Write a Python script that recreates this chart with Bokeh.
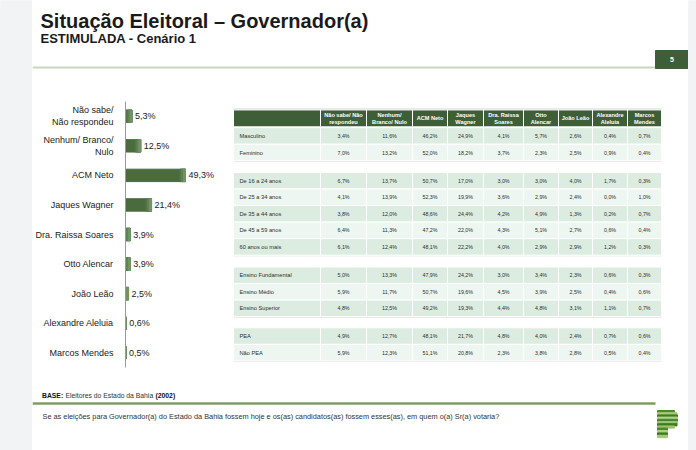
from bokeh.plotting import figure
from bokeh.layouts import row, column
from bokeh.models import Range1d, FactorRange
from bokeh.embed import file_html
from bokeh.resources import INLINE
from bokeh.core.properties import value

FONT = "Liberation Sans"

# ---------------- data ----------------
candidates = ["Não sabe/\nNão respondeu", "Nenhum/ Branco/\nNulo", "ACM Neto", "Jaques Wagner",
              "Dra. Raissa Soares", "Otto Alencar", "João Leão", "Alexandre Aleluia", "Marcos Mendes"]
totals = [5.3, 12.5, 49.3, 21.4, 3.9, 3.9, 2.5, 0.6, 0.5]

col_headers = ["Não sabe/ Não\nrespondeu", "Nenhum/\nBranco/ Nulo", "ACM Neto", "Jaques\nWagner",
               "Dra. Raissa\nSoares", "Otto\nAlencar", "João Leão", "Alexandre\nAleluia", "Marcos\nMendes"]

sexo_labels = ["Masculino", "Feminino"]
masculino = [3.4, 11.6, 46.2, 24.9, 4.1, 5.7, 2.6, 0.4, 0.7]
feminino = [7.0, 13.2, 52.0, 18.2, 3.7, 2.3, 2.5, 0.9, 0.4]

idade_labels = ["De 16 a 24 anos", "De 25 a 34 anos", "De 35 a 44 anos", "De 45 a 59 anos", "60 anos ou mais"]
idade_16_24 = [6.7, 13.7, 50.7, 17.0, 3.0, 3.0, 4.0, 1.7, 0.3]
idade_25_34 = [4.1, 13.9, 52.3, 19.9, 3.6, 2.9, 2.4, 0.0, 1.0]
idade_35_44 = [3.8, 12.0, 48.6, 24.4, 4.2, 4.9, 1.3, 0.2, 0.7]
idade_45_59 = [6.4, 11.3, 47.2, 22.0, 4.3, 5.1, 2.7, 0.6, 0.4]
idade_60_mais = [6.1, 12.4, 48.1, 22.2, 4.0, 2.9, 2.9, 1.2, 0.3]

escol_labels = ["Ensino Fundamental", "Ensino Médio", "Ensino Superior"]
ens_fundamental = [5.0, 13.3, 47.9, 24.2, 3.0, 3.4, 2.3, 0.6, 0.3]
ens_medio = [5.9, 11.7, 50.7, 19.6, 4.5, 3.9, 2.5, 0.4, 0.6]
ens_superior = [4.8, 12.5, 49.2, 19.3, 4.4, 4.8, 3.1, 1.1, 0.7]

pea_labels = ["PEA", "Não PEA"]
pea = [4.9, 12.7, 48.1, 21.7, 4.8, 4.0, 2.4, 0.7, 0.6]
nao_pea = [5.9, 12.3, 51.1, 20.8, 2.3, 3.8, 2.8, 0.5, 0.4]

groups = [
    (sexo_labels, [masculino, feminino]),
    (idade_labels, [idade_16_24, idade_25_34, idade_35_44, idade_45_59, idade_60_mais]),
    (escol_labels, [ens_fundamental, ens_medio, ens_superior]),
    (pea_labels, [pea, nao_pea]),
]


def pct(v):
    return f"{v:.1f}".replace(".", ",") + "%"


# ---------------- style ----------------
GRAY_BG = "#f2f3f5"
DARK_GREEN = "#3e5e37"
BAR_GREEN = "#4a6b3e"
ROW_DARK = "#dcece1"
ROW_LIGHT = "#edf6f0"
TXT = "#222222"


def blank(width, height, xr, yr, bg="white"):
    f = figure(width=width, height=height, x_range=xr, y_range=yr,
               x_axis_type=None, y_axis_type=None, output_backend="svg",
               toolbar_location=None, min_border=0,
               min_border_left=0, min_border_right=0, min_border_top=0, min_border_bottom=0)
    f.outline_line_color = None
    f.background_fill_color = bg
    f.border_fill_color = bg
    f.grid.visible = False
    return f


# ---------------- gray side strips ----------------
strip = blank(32, 450, Range1d(0, 32), Range1d(450, 0), bg=GRAY_BG)
strip.quad(left=[0], right=[32], top=[0], bottom=[450], color=GRAY_BG)
strip_r = blank(8, 450, Range1d(688, 696), Range1d(450, 0), bg=GRAY_BG)
strip_r.quad(left=[688], right=[696], top=[0], bottom=[450], color=GRAY_BG)

# ---------------- header ----------------
header = blank(656, 70, Range1d(32, 688), Range1d(70, 0))
header.text(x=[40], y=[20], text=["Situação Eleitoral – Governador(a)"],
            text_font=value(FONT), text_font_style="bold", text_font_size="20px",
            text_color="#1a1a1a", text_baseline="middle")
header.text(x=[40], y=[37.5], text=["ESTIMULADA - Cenário 1"],
            text_font=value(FONT), text_font_style="bold", text_font_size="13px",
            text_color="#1a1a1a", text_baseline="middle")
header.segment(x0=[32], x1=[688], y0=[67], y1=[67], line_color="#c9d6be", line_width=2)
header.quad(left=[655], right=[688], top=[50], bottom=[68], color=DARK_GREEN)
header.text(x=[671.5], y=[59], text=["5"], text_font=value(FONT), text_font_style="bold",
            text_font_size="7px", text_color="white", text_align="center", text_baseline="middle")

# ---------------- bar chart ----------------
bars = figure(width=193, height=315, x_range=Range1d(0, 82.2),
              y_range=FactorRange(factors=candidates[::-1]),
              x_axis_type=None, output_backend="svg", toolbar_location=None,
              min_border_left=88, min_border_right=0, min_border_top=31, min_border_bottom=18)
bars.outline_line_color = None
bars.grid.visible = False
bars.hbar(y=candidates, left=0, right=totals, height=0.42, color=BAR_GREEN)
# light sheen toward the right end of each bar
for frac, shade in [(4.5, "#557749"), (3.0, "#628456"), (1.5, "#739466")]:
    bars.hbar(y=candidates, left=[max(0, v - frac) for v in totals], right=totals,
              height=0.42, color=shade)
bars.text(x=totals, y=candidates, text=[pct(v) for v in totals], x_offset=3,
          text_font=value(FONT), text_font_size="9px", text_color=TXT, text_baseline="middle")
ax = bars.yaxis[0]
ax.axis_line_color = "#9a9a9a"
ax.major_tick_line_color = None
ax.minor_tick_line_color = None
ax.major_label_standoff = 6
ax.major_label_text_font = FONT
ax.major_label_text_font_size = "9px"
ax.major_label_text_color = TXT

# ---------------- table ----------------
table = blank(463, 315, Range1d(225, 688), Range1d(385, 70))
col_edges = [233, 320, 366, 412, 447, 483, 523, 558, 592, 627, 661]
group_tops = [101, 154, 266, 338]
ROW_H = 19.6
HEAD_TOP, HEAD_BOT = 80, 100

table.segment(x0=[col_edges[0]], x1=[col_edges[-1]], y0=[HEAD_TOP - 0.8], y1=[HEAD_TOP - 0.8],
              line_color="#d6d6d6", line_width=1.5)
table.quad(left=col_edges[:-1], right=col_edges[1:], top=[HEAD_TOP] * 10, bottom=[HEAD_BOT] * 10,
           fill_color=DARK_GREEN, line_color="white", line_width=1)
centers = [(a + b) / 2 for a, b in zip(col_edges[1:-1], col_edges[2:])]
table.text(x=centers, y=[(HEAD_TOP + HEAD_BOT) / 2] * 9, text=col_headers,
           text_font=value(FONT), text_font_style="bold", text_font_size="5.6px",
           text_color="white", text_align="center", text_baseline="middle", text_line_height=1.05)

L, R, T, B, C = [], [], [], [], []
lx, ly, lt = [], [], []
vx, vy, vt = [], [], []
for g, (labels, rows) in enumerate(groups):
    for i, (lab, vals) in enumerate(zip(labels, rows)):
        top = group_tops[g] + i * ROW_H
        bot = top + ROW_H
        colr = ROW_DARK if i % 2 == 0 else ROW_LIGHT
        for c in range(10):
            L.append(col_edges[c]); R.append(col_edges[c + 1]); T.append(top); B.append(bot); C.append(colr)
        lx.append(col_edges[0] + 6); ly.append((top + bot) / 2); lt.append(lab)
        for c, v in enumerate(vals):
            vx.append(centers[c]); vy.append((top + bot) / 2); vt.append(pct(v))
    gb = group_tops[g] + len(labels) * ROW_H
    table.segment(x0=[col_edges[0]], x1=[col_edges[-1]], y0=[gb + 0.8], y1=[gb + 0.8],
                  line_color="#e2e2e2", line_width=1)

table.quad(left=L, right=R, top=T, bottom=B, fill_color=C, line_color="white", line_width=1)
table.text(x=lx, y=ly, text=lt, text_font=value(FONT), text_font_size="5.7px",
           text_color="#2e2e2e", text_baseline="middle")
table.text(x=vx, y=vy, text=vt, text_font=value(FONT), text_font_size="5.3px",
           text_color="#2e2e2e", text_align="center", text_baseline="middle")

# ---------------- footer ----------------
footer = blank(656, 65, Range1d(32, 688), Range1d(450, 385))
footer.text(x=[41.5], y=[395], text=["BASE:"], text_font=value(FONT), text_font_style="bold",
            text_font_size="6.8px", text_color="#111111", text_baseline="middle")
footer.text(x=[65], y=[395], text=["Eleitores do Estado da Bahia"], text_font=value(FONT),
            text_font_size="6.8px", text_color="#333333", text_baseline="middle")
footer.text(x=[155], y=[395], text=["(2002)"], text_font=value(FONT), text_font_style="bold",
            text_font_size="6.8px", text_color="#111111", text_baseline="middle")
footer.segment(x0=[32], x1=[655], y0=[403], y1=[403], line_color="#7e9c68", line_width=2.5)
footer.text(x=[42], y=[416],
            text=["Se as eleições para Governador(a) do Estado da Bahia fossem hoje e os(as) candidatos(as) fossem esses(as), em quem o(a) Sr(a) votaria?"],
            text_font=value(FONT), text_font_size="7.35px", text_color="#333333", text_baseline="middle")
stripe_tops = [410, 412.2, 414.4, 416.6, 418.8, 421, 423.2, 425.4]
stripe_right = [674, 676.5, 677, 677, 677, 677, 676.5, 674]
stripe_col = ["#4c8a30", "#a9c979", "#3f7c28", "#b5d18a", "#468530", "#a0c46e", "#3c7a27", "#9fc26a"]
footer.quad(left=[657] * 8, right=stripe_right, top=stripe_tops, bottom=[t + 2.2 for t in stripe_tops],
            color=stripe_col)
stem_tops = [427.6, 430, 432.4, 434.8]
footer.quad(left=[657] * 4, right=[667] * 4, top=stem_tops, bottom=[t + 2.4 for t in stem_tops],
            color=["#4c8a30", "#b0cd80", "#3f7c28", "#a9c979"])

layout = row(strip, column(header, row(bars, table), footer), strip_r)

open("out.html", "w").write(file_html(layout, INLINE))
